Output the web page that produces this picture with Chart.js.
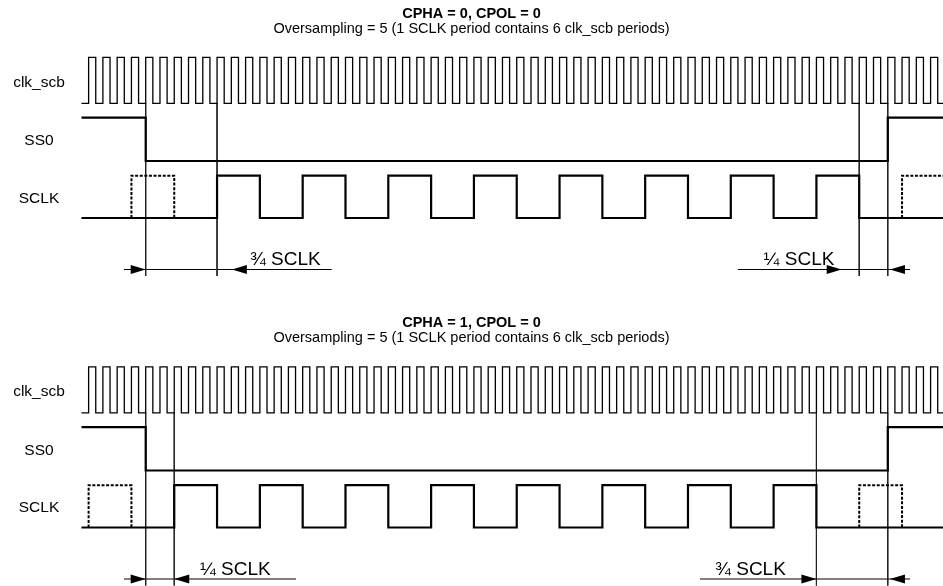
<!DOCTYPE html>
<html>
<head>
<meta charset="utf-8">
<title>SPI timing</title>
<script src="https://cdn.jsdelivr.net/npm/chart.js@4.4.0/dist/chart.umd.min.js"></script>
<style>
html,body{margin:0;padding:0;background:#fff;}
#wrap{width:943px;height:586px;position:relative;}
</style>
</head>
<body>
<div id="wrap"><canvas id="c"></canvas></div>
<script>
/* SPI timing diagrams – time unit is one clk_scb period, t = 0 at the SS0 falling edge */

// ----- data
const panelTitles   = ['CPHA = 0, CPOL = 0', 'CPHA = 1, CPOL = 0'];
const panelSubtitle = 'Oversampling = 5 (1 SCLK period contains 6 clk_scb periods)';
const signalNames   = ['clk_scb', 'SS0', 'SCLK'];

const traceStart = -4.5;
const clkScbRise = [-4,-3,-2,-1,0,1,2,3,4,5,6,7,8,9,10,11,12,13,14,15,16,17,18,19,20,
                    21,22,23,24,25,26,27,28,29,30,31,32,33,34,35,36,37,38,39,40,41,42,
                    43,44,45,46,47,48,49,50,51,52,53,54,55];
const clkScbHigh = 0.5;
const ss0Fall = 0;
const ss0Rise = 52;
const sclkRise = [
  [5, 11, 17, 23, 29, 35, 41, 47],
  [2,  8, 14, 20, 26, 32, 38, 44]
];
const sclkHigh = 3;
const sclkGhost = [            // dotted "possible" SCLK pulses
  [[-1, 2], [53, 56]],
  [[-4, -1], [50, 53]]
];
const markers = [[0, 5, 50, 52], [0, 2, 47, 52]];
const arrowLines = [
  [[-1.52, 13.03], [41.5, 53.56]],
  [[-1.52, 10.53], [38.84, 53.56]]
];
const arrowTips = [           // [t, direction]
  [[0, 1], [6.04, -1], [48.77, 1], [52.15, -1]],
  [[0, 1], [2.0, -1], [47.0, 1], [52.15, -1]]
];
const spanLabels = [
  [['¾ SCLK', 7.3], ['¼ SCLK', 43.3]],
  [['¼ SCLK', 3.8], ['¾ SCLK', 39.9]]
];

// ----- layout (pixels)
const W = 943, H = 586;
const tMin = -10.21, tMax = 55.87;
const panelDy = [0, 309.5];
const rowY = { clkHi: 57.3, clkLo: 103.3, ssHi: 117.7, ssLo: 161, sclkHi: 175.7, sclkLo: 218 };
const arrowY = 269.5, markerTop = 103.3, markerBot = 276;
const nameX = 39, nameY = [86.7, 145, 202.7];
const titleX = 471.5, titleY = [17.5, 32.5];
const labelBase = 265;
const FONT = '"Liberation Sans", Arial, Helvetica, sans-serif';

const line = (pts, width, extra={}) => Object.assign({
  data: pts, borderColor: '#000', borderWidth: width, pointRadius: 0,
  fill: false, tension: 0, stepped: false
}, extra);

const datasets = [];
panelDy.forEach((dy, p) => {
  // clk_scb
  const clk = [{x: traceStart, y: rowY.clkLo + dy}];
  clkScbRise.forEach(r => {
    clk.push({x: r, y: rowY.clkHi + dy});
    clk.push({x: r + clkScbHigh, y: rowY.clkLo + dy});
  });
  clk.push({x: tMax, y: rowY.clkLo + dy});
  datasets.push(line(clk, 1.3, {stepped: 'before'}));

  // SS0
  datasets.push(line([
    {x: traceStart, y: rowY.ssHi + dy},
    {x: ss0Fall, y: rowY.ssLo + dy},
    {x: ss0Rise, y: rowY.ssHi + dy},
    {x: tMax, y: rowY.ssHi + dy}
  ], 2.2, {stepped: 'before'}));

  // SCLK
  const sc = [{x: traceStart, y: rowY.sclkLo + dy}];
  sclkRise[p].forEach(r => {
    sc.push({x: r, y: rowY.sclkHi + dy});
    sc.push({x: r + sclkHigh, y: rowY.sclkLo + dy});
  });
  sc.push({x: tMax, y: rowY.sclkLo + dy});
  datasets.push(line(sc, 2.2, {stepped: 'before'}));

  // dotted ghost pulses
  sclkGhost[p].forEach(([a, b]) => {
    datasets.push(line([
      {x: a, y: rowY.sclkLo + dy}, {x: a, y: rowY.sclkHi + dy},
      {x: b, y: rowY.sclkHi + dy}, {x: b, y: rowY.sclkLo + dy}
    ], 2, {borderDash: [3, 1.6]}));
  });

  // vertical markers
  markers[p].forEach(t => {
    datasets.push(line([{x: t, y: markerTop + dy}, {x: t, y: markerBot + dy}], 1, {borderColor: '#222'}));
  });

  // dimension lines
  arrowLines[p].forEach(([a, b]) => {
    datasets.push(line([{x: a, y: arrowY + dy}, {x: b, y: arrowY + dy}], 1));
  });
});

const annotate = {
  id: 'annotate',
  afterDatasetsDraw(chart){
    const {ctx, scales:{x, y}} = chart;
    ctx.save();
    ctx.fillStyle = '#000';
    panelDy.forEach((dy, p) => {
      // arrowheads
      arrowTips[p].forEach(([t, dir]) => {
        const px = x.getPixelForValue(t), py = y.getPixelForValue(arrowY + dy);
        ctx.beginPath();
        ctx.moveTo(px, py);
        ctx.lineTo(px - dir * 15, py - 4.5);
        ctx.lineTo(px - dir * 15, py + 4.5);
        ctx.closePath();
        ctx.fill();
      });
      // span labels
      ctx.font = `19px ${FONT}`;
      ctx.textAlign = 'left'; ctx.textBaseline = 'alphabetic';
      spanLabels[p].forEach(([txt, t]) => {
        ctx.fillText(txt, x.getPixelForValue(t), y.getPixelForValue(labelBase + dy));
      });
      // signal names
      ctx.font = `15.5px ${FONT}`;
      ctx.textAlign = 'center';
      signalNames.forEach((n, i) => ctx.fillText(n, nameX, y.getPixelForValue(nameY[i] + dy)));
      // titles
      ctx.font = `bold 14.5px ${FONT}`;
      ctx.fillText(panelTitles[p], titleX, y.getPixelForValue(titleY[0] + dy));
      ctx.font = `14.5px ${FONT}`;
      ctx.fillText(panelSubtitle, titleX, y.getPixelForValue(titleY[1] + dy));
    });
    ctx.restore();
  }
};

new Chart(document.getElementById('c'), {
  type: 'line',
  data: { datasets },
  options: {
    responsive: true,
    maintainAspectRatio: false,
    animation: false,
    events: [],
    layout: { padding: 0 },
    scales: {
      x: { type: 'linear', min: tMin, max: tMax, display: false },
      y: { type: 'linear', min: 0, max: H, reverse: true, display: false }
    },
    plugins: { legend: { display: false }, tooltip: { enabled: false } }
  },
  plugins: [annotate]
});
</script>
</body>
</html>
